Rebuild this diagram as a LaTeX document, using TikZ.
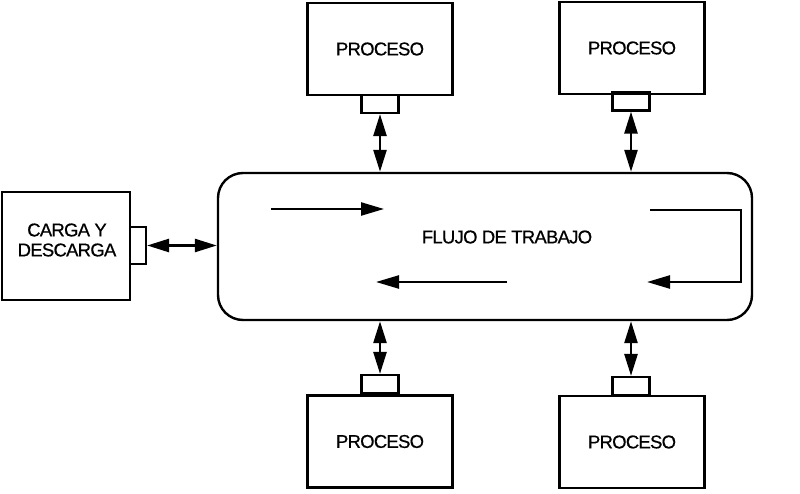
\documentclass[tikz,border=0pt]{standalone}
\usepackage{fontspec}
\setmainfont{Liberation Sans}
\newfontfamily\lblfont[LetterSpace=-4,FakeBold=0.6]{Liberation Sans}
\usetikzlibrary{arrows.meta}
\begin{document}
\begin{tikzpicture}[x=1pt,y=-1pt,
  lbl/.style={font=\lblfont\fontsize{18.5}{20}\selectfont,inner sep=0pt,align=center},
  box/.style={draw,line width=2.4pt,minimum width=145pt,minimum height=92pt,inner sep=0pt,lbl},
  stub/.style={draw,line width=2.2pt,minimum width=37pt,minimum height=18pt,inner sep=0pt},
  link/.style={line width=2.6pt,{Triangle[length=22pt,width=13pt]}-{Triangle[length=22pt,width=13pt]}},
  flow/.style={line width=2.4pt,-{Triangle[length=23pt,width=13pt]}}]
\useasboundingbox (0,0) rectangle (800,494);
\node[box] (p1) at (380,49) {PROCESO};
\node[box] (p2) at (632,48) {PROCESO};
\node[box] (p3) at (380,441.5) {PROCESO};
\node[box] (p4) at (632,442) {PROCESO};
\node[draw,line width=2.4pt,minimum width=128pt,minimum height=108pt,inner sep=0pt] (cd) at (66,246) {};
\node[lbl] (cdt) at (67,240) {CARGA Y\\DESCARGA};
\node[stub] (s1) at (380,104) {};
\node[stub] (s2) at (631,101.5) {};
\node[stub] (s3) at (380,384) {};
\node[stub] (s4) at (631,386) {};
\node[draw,line width=2.2pt,minimum width=16pt,minimum height=37pt,inner sep=0pt] (s0) at (138,245.5) {};
\node[draw,line width=2.4pt,rounded corners=25pt,minimum width=534pt,minimum height=147pt,inner sep=0pt] (main) at (485,246.5) {};
\node[lbl] (ft) at (507,237) {FLUJO DE TRABAJO};
\draw[link] (s1.south) -- (s1.south |- main.north);
\draw[link] (s2.south) -- (s2.south |- main.north);
\draw[link] (s3.north) -- (s3.north |- main.south);
\draw[link] (s4.north) -- (s4.north |- main.south);
\draw[link] (s0.east) -- (s0.east -| main.west);
\coordinate (a1) at (271,209);
\coordinate (a2) at (384,209);
\coordinate (b1) at (650,210);
\coordinate (b2) at (741,210);
\coordinate (b3) at (741,282);
\coordinate (b4) at (647,282);
\coordinate (c1) at (507,282);
\coordinate (c2) at (376,282);
\draw[flow] (a1) -- (a2);
\draw[flow] (b1) -- (b2) -- (b3) -- (b4);
\draw[flow] (c1) -- (c2);
\end{tikzpicture}
\end{document}
